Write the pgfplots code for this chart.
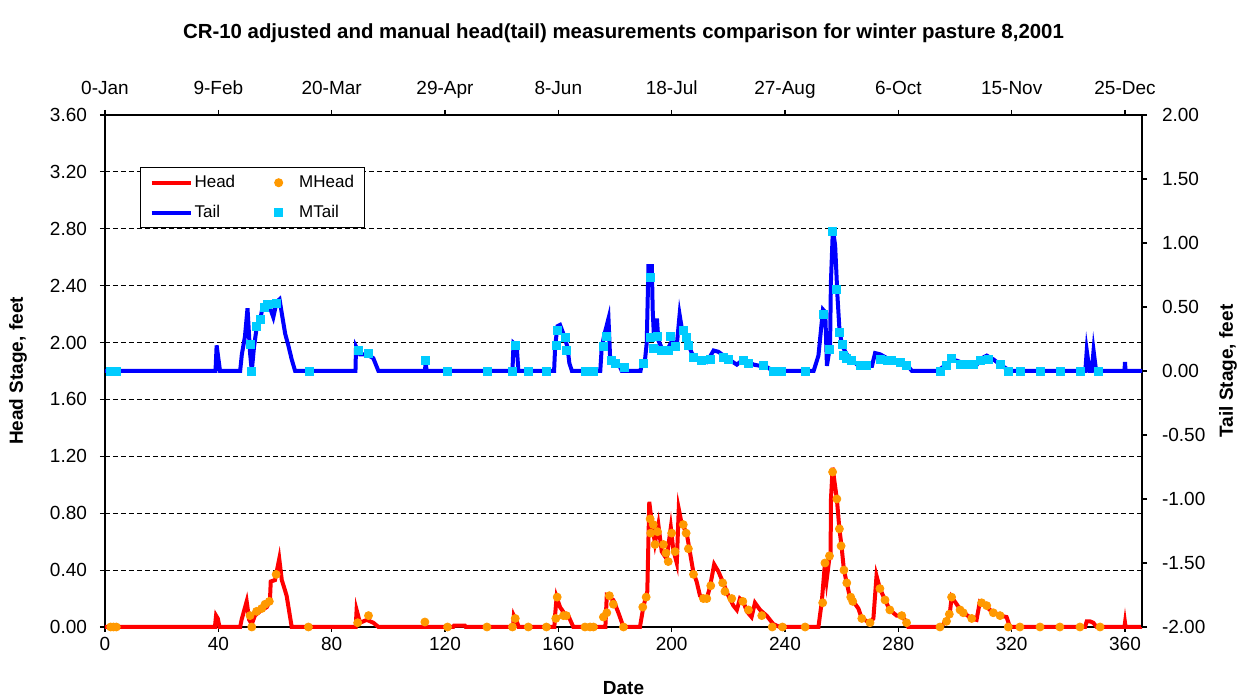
\documentclass[border=0pt]{standalone}
\usepackage{pgfplots}
\pgfplotsset{compat=1.18}
\usepackage{fontspec}
\setmainfont{Liberation Sans}
\definecolor{headred}{RGB}{255,0,0}
\definecolor{tailblue}{RGB}{0,0,255}
\definecolor{mheadorange}{RGB}{255,153,0}
\definecolor{mtailcyan}{RGB}{0,204,255}

\pgfplotsset{
  chartbase/.style={
    scale only axis, width=518.5pt, height=256pt,
    xmin=0, xmax=366, clip=false,
    xtick={0,40,...,360},
    tick align=outside, major tick length=2.5pt,
    /pgf/number format/assume math mode=true,
    tick label style={font=\fontsize{9.5}{11}\selectfont},
    label style={font=\bfseries\fontsize{9.5}{11}\selectfont},
    axis line style={line width=0.6pt},
    every tick/.style={black, line width=0.6pt},
  },
  headline/.style={headred, line width=2pt, mark=none,
    legend image code/.code={\draw[##1] (0pt,0pt) -- (19.5pt,0pt);}},
  tailline/.style={tailblue, line width=2pt, mark=none,
    legend image code/.code={\draw[##1] (0pt,0pt) -- (19.5pt,0pt);}},
  mheadmarks/.style={only marks, mark=*, mark size=2pt,
    mark options={draw=mheadorange, fill=mheadorange},
    legend image code/.code={\draw[##1] plot coordinates {(9pt,0pt)}; \path (0pt,0pt) (18pt,0pt);}},
  mtailmarks/.style={only marks, mark=square*, mark size=2pt,
    mark options={draw=mtailcyan, fill=mtailcyan},
    legend image code/.code={\draw[##1] plot coordinates {(9pt,0pt)}; \path (0pt,0pt) (18pt,0pt);}},
}

\begin{document}
\begin{tikzpicture}
% head stage, left axis
\begin{axis}[chartbase, name=headax,
  axis x line*=bottom, axis y line*=left,
  ymin=0, ymax=3.6,
  ytick={0,0.4,0.8,1.2,1.6,2.0,2.4,2.8,3.2,3.6},
  yticklabel style={xshift=-3pt, /pgf/number format/fixed, /pgf/number format/fixed zerofill, /pgf/number format/precision=2},
  xticklabel style={yshift=1pt},
  ymajorgrids, grid style={black, dash pattern=on 2.5pt off 1.5pt, line width=0.5pt},
  xlabel={Date},
  xlabel style={at={(rel axis cs:0.5,0)}, anchor=center, yshift=-30.5pt},
  ylabel={Head Stage, feet},
  ylabel style={at={(rel axis cs:0,0.5)}, anchor=center, yshift=43.5pt},
  title={CR-10 adjusted and manual head(tail) measurements comparison for winter pasture 8,2001},
  title style={at={(rel axis cs:0.5,1)}, anchor=center, yshift=35pt, font=\bfseries\fontsize{10.2}{12}\selectfont},
]
\addplot[headline] coordinates {
(0,0) (38.8,0) (39.2,0.08) (39.8,0.06) (40.4,0) (47.7,0) (48.2,0.05) (50.0,0.18) (50.9,0.05)
(51.8,0.02) (52.9,0.08) (54.7,0.11) (57.1,0.14) (58.2,0.18) (58.5,0.32) (60.0,0.33) (61.5,0.48)
(62.4,0.33) (63.5,0.26) (64.1,0.22) (65.9,0) (88.5,0) (88.8,0.12) (90.0,0.03) (92.4,0.05)
(94.7,0.03) (96.5,0) (122.9,0) (123.2,0.01) (127,0.01) (127.3,0) (144,0) (144.3,0.08)
(145.5,0.03) (146,0) (158.6,0) (158.8,0.07) (159.4,0.21) (160.6,0.14) (163.0,0.07) (163.5,0.08)
(165.3,0) (176.6,0) (177.1,0.22) (179.4,0.19) (181.2,0.1) (183.0,0) (188.8,0) (190.0,0.14)
(191.4,0.25) (192.1,0.88) (193.0,0.73) (194.1,0.59) (195.3,0.72) (196.5,0.53) (198.2,0.48)
(199.7,0.7) (200.6,0.54) (201.8,0.45) (202.5,0.83) (203.5,0.73) (205.3,0.66) (206.5,0.52)
(207.7,0.38) (208.8,0.32) (210.0,0.22) (212.4,0.2) (213.5,0.28) (215.0,0.44) (216.5,0.39)
(218.2,0.31) (220.0,0.22) (221.8,0.15) (223.0,0.12) (224.1,0.2) (225.3,0.18) (226.5,0.11)
(228.2,0.07) (229.4,0.17) (231.2,0.12) (233.5,0.08) (235.9,0.02) (238.2,0) (251.8,0)
(253.0,0.18) (254.1,0.45) (254.7,0.33) (255.7,0.49) (256.1,0.49) (256.2,0.89) (256.8,1.12)
(258.3,0.9) (259.2,0.69) (260.0,0.56) (260.8,0.40) (261.8,0.31) (262.9,0.21) (264.1,0.18)
(265.9,0.13) (267.1,0.06) (270.0,0.03) (271.2,0.06) (272.3,0.36) (273.5,0.27) (275.3,0.19)
(277.0,0.12) (279.4,0.08) (281.2,0.08) (282.9,0.03) (283.5,0) (294.7,0) (297.0,0.04)
(298.2,0.1) (298.8,0.21) (300.6,0.16) (302.3,0.11) (305.9,0.06) (307.6,0.05) (308.8,0.18)
(310.0,0.17) (312.3,0.12) (315.9,0.08) (318.2,0.07) (319.4,0) (345.9,0) (346.5,0.04)
(347.6,0.04) (348.8,0.03) (350,0) (359.8,0) (360,0.03) (360.2,0) (366,0)
};
\addplot[mheadmarks] coordinates {
(2,0) (3,0) (4,0) (51.2,0.08) (51.8,0) (53.5,0.11) (55.3,0.13) (56.5,0.16) (58.0,0.18)
(60.4,0.37) (71.8,0) (89.2,0.03) (93.0,0.08) (112.9,0.035) (120.9,0) (134.8,0) (143.8,0)
(144.8,0.06) (149.4,0) (155.8,0) (159.1,0.06) (159.6,0.21) (161.8,0.08) (162.8,0.08) (169.4,0)
(171.2,0) (172.4,0) (175.9,0.07) (177.1,0.1) (178.0,0.22) (179.4,0.16) (183.0,0) (189.8,0.14)
(191.0,0.21) (192.4,0.76) (192.6,0.66) (193.5,0.72) (194.1,0.58) (195.0,0.67) (197.1,0.58)
(198.0,0.52) (198.8,0.46) (200.0,0.66) (201.2,0.53) (204.1,0.72) (205.1,0.66) (205.9,0.55)
(207.7,0.37) (211.2,0.2) (212.4,0.2) (213.8,0.29) (218.0,0.31) (218.8,0.25) (221.2,0.2)
(225.1,0.18) (227.1,0.12) (231.8,0.08) (235.5,0) (239.1,0) (247.1,0) (253.3,0.17) (254.1,0.45)
(255.7,0.5) (256.8,1.09) (258.3,0.9) (259.2,0.69) (259.8,0.57) (260.8,0.40) (261.8,0.31)
(263.2,0.21) (263.9,0.18) (267.1,0.06) (270.0,0.03) (273.5,0.27) (275.3,0.19) (277.0,0.12)
(281.2,0.08) (282.9,0.03) (294.7,0) (297.0,0.04) (298.0,0.09) (298.8,0.21) (301.8,0.12)
(302.9,0.1) (305.9,0.06) (309.4,0.17) (311.2,0.15) (313.5,0.1) (315.9,0.08) (318.8,0)
(322.9,0) (330.0,0) (337.0,0) (344.1,0) (351.2,0)
};
\end{axis}

% tail stage, right axis
\begin{axis}[chartbase, name=tailax,
  axis x line*=top, axis y line*=right,
  xticklabels={0-Jan,9-Feb,20-Mar,29-Apr,8-Jun,18-Jul,27-Aug,6-Oct,15-Nov,25-Dec},
  xticklabel style={text height=7pt, text depth=2pt, yshift=2pt},
  ymin=-2, ymax=2,
  ytick={-2,-1.5,-1,-0.5,0,0.5,1,1.5,2},
  yticklabel style={xshift=4pt, /pgf/number format/fixed, /pgf/number format/fixed zerofill, /pgf/number format/precision=2},
  ylabel={Tail Stage, feet},
  ylabel style={at={(rel axis cs:1,0.5)}, anchor=center, yshift=-43pt},
  legend columns=2,
  legend cell align=left,
  legend style={at={(rel axis cs:0.0338,0.898)}, anchor=north west,
    draw=black, line width=0.5pt, fill=white,
    font=\fontsize{8.5}{10}\selectfont,
    inner xsep=4.5pt, inner ysep=2.5pt, row sep=5pt,
    nodes={inner sep=1pt, text height=6.2pt, text depth=1.8pt},
    /tikz/every even column/.append style={column sep=11.5pt}},
]
\addlegendimage{headline}
\addlegendentry{Head}
\addlegendimage{mheadmarks}
\addlegendentry{MHead}
\addplot[tailline] coordinates {
(0,0) (39.0,0) (39.4,0.2) (40.0,0.1) (40.6,0) (47.7,0) (48.3,0.13) (49.4,0.27) (50.3,0.49)
(51.2,0.14) (51.8,0) (52.6,0.19) (53.6,0.35) (54.7,0.39) (55.7,0.51) (56.9,0.52) (58.3,0.49)
(59.4,0.42) (60.6,0.54) (61.6,0.56) (62.4,0.45) (63.6,0.29) (64.7,0.2) (65.9,0.09) (67.1,0)
(88.4,0) (88.6,0.19) (90.0,0.13) (92.4,0.13) (94.7,0.1) (96.5,0) (112.9,0) (113.2,0.07)
(113.5,0) (143.8,0) (144.2,0.22) (145.3,0.2) (145.9,0) (158.5,0) (158.9,0.2) (159.7,0.35)
(160.6,0.36) (161.8,0.29) (163.2,0.19) (163.9,0.06) (164.8,0) (174.8,0) (175.3,0.18)
(176.2,0.28) (177.7,0.41) (178.3,0.09) (179.5,0.07) (181.8,0.03) (182.4,0) (189.0,0)
(189.5,0.06) (190.6,0.09) (191.2,0.22) (191.8,0.82) (193.0,0.82) (193.3,0.48) (193.8,0.24)
(194.8,0.41) (195.3,0.24) (196.5,0.18) (198.3,0.16) (200.0,0.23) (201.8,0.2) (202.8,0.44)
(203.6,0.33) (205.3,0.24) (207.1,0.14) (208.9,0.09) (212.4,0.07) (214.8,0.16) (216.5,0.15)
(219.5,0.1) (223.0,0.05) (225.3,0.09) (228.9,0.05) (233.6,0.03) (235.9,0) (250.1,0)
(251.8,0.12) (253.4,0.48) (254.2,0.46) (254.8,0.04) (255.9,0.2) (256.2,0.69) (256.9,1.11)
(257.7,0.98) (258.5,0.59) (259.2,0.33) (260.1,0.2) (261.8,0.13) (263.0,0.1) (265.4,0.05)
(267.7,0.04) (270.7,0.04) (271.8,0.14) (273.6,0.13) (276.0,0.1) (278.9,0.07) (283.0,0.05)
(284.8,0) (293.6,0) (297.1,0.05) (298.9,0.09) (300.7,0.08) (304.2,0.05) (307.7,0.05)
(309.5,0.1) (311.2,0.12) (313.6,0.09) (315.9,0.05) (319.5,0) (346.0,0) (346.5,0.16)
(347.5,0) (348.3,0) (348.9,0.16) (349.8,0) (359.8,0) (360,0.07) (360.2,0) (366,0)
};
\addlegendentry{Tail}
\addplot[mtailmarks] coordinates {
(2,0) (3,0) (4,0) (51.2,0.21) (51.8,0) (53.3,0.35) (54.7,0.4) (56.3,0.5) (57.3,0.52)
(60.6,0.53) (72.0,0) (89.4,0.16) (93.0,0.14) (113.2,0.08) (121.0,0) (134.8,0) (143.9,0)
(144.8,0.2) (149.5,0) (155.9,0) (159.2,0.2) (159.7,0.32) (162.4,0.26) (163.0,0.16) (169.5,0)
(172.4,0) (175.9,0.19) (176.9,0.27) (178.9,0.08) (180.0,0.06) (183.2,0.03) (190.0,0.06)
(192.4,0.73) (192.6,0.26) (193.6,0.18) (195.0,0.27) (196.5,0.16) (198.9,0.16) (199.7,0.27)
(201.2,0.19) (204.2,0.32) (205.3,0.26) (205.9,0.2) (207.7,0.11) (210.6,0.08) (213.6,0.09)
(218.3,0.11) (220.0,0.09) (225.3,0.08) (227.1,0.06) (232.2,0.04) (235.9,0) (238.9,0)
(247.1,0) (253.6,0.44) (255.7,0.17) (256.9,1.09) (258.3,0.64) (259.2,0.3) (260.1,0.21)
(260.7,0.12) (261.8,0.1) (263.6,0.08) (266.5,0.04) (268.9,0.04) (273.6,0.09) (276.0,0.08)
(277.7,0.08) (280.7,0.07) (283.0,0.04) (294.8,0) (297.1,0.04) (298.9,0.1) (301.8,0.05)
(304.2,0.05) (306.5,0.05) (308.9,0.08) (311.8,0.09) (315.9,0.05) (318.9,0) (323.0,0)
(330.1,0) (337.1,0) (344.2,0) (350.7,0)
};
\addlegendentry{MTail}
\end{axis}
\pgfresetboundingbox
\path[use as bounding box] ([xshift=-52.5pt,yshift=-36.5pt]tailax.south west)
  rectangle ([xshift=51pt,yshift=57.5pt]tailax.north east);
\end{tikzpicture}
\end{document}
